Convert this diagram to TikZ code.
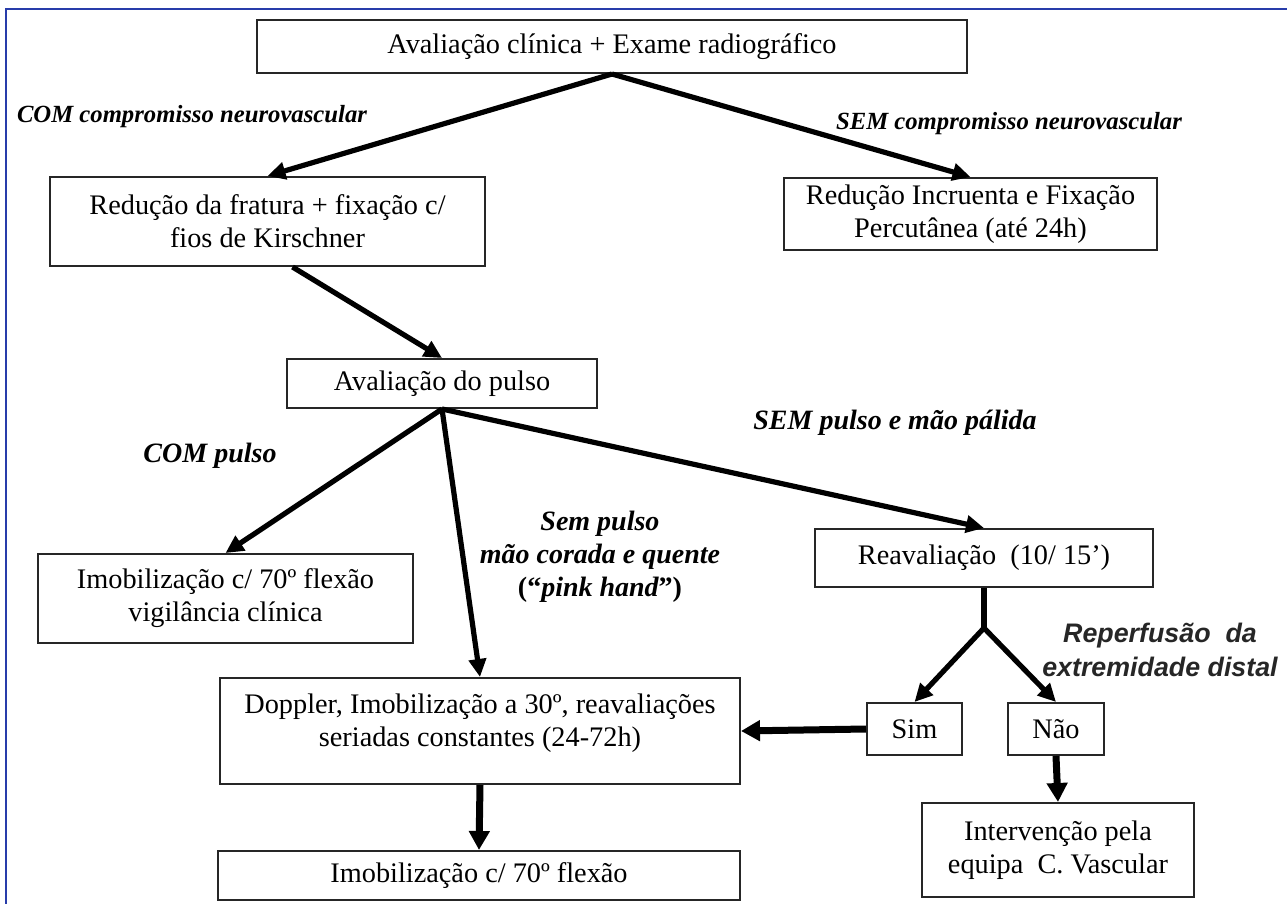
\documentclass[tikz,border=0pt]{standalone}
\usepackage{fontspec}
\setmainfont{Liberation Serif}
\newfontfamily\arialfont{Liberation Sans}
\usepackage{tikz}
\usetikzlibrary{arrows.meta,calc,positioning}
\definecolor{moldura}{RGB}{40,60,170}
\tikzstyle{caixa} = [draw=black!85, line width=1pt, fill=white, align=center, inner sep=0pt,
	font=\fontsize{14.15}{16.5}\selectfont]
\tikzstyle{seta} = [line width=2.6pt, -{Triangle[length=9pt,width=8.5pt]}]
\tikzstyle{setagrossa} = [line width=3.5pt, -{Triangle[length=9.5pt,width=10pt]}]
\tikzstyle{rotulo} = [align=center, inner sep=0pt, font=\fontsize{14}{16.5}\selectfont\bfseries\itshape]

\begin{document}
\begin{tikzpicture}[x=0.5pt, y=-0.5pt]
		\useasboundingbox (0,0) rectangle (1287,904);
		\draw[moldura, line width=1pt] (6,904) -- (6,9) -- (1287,9);

		\node[caixa, minimum width=355pt, minimum height=26.5pt] (aval) at (612,46.5) {Avaliação clínica + Exame radiográfico};
		\node[caixa, minimum width=217.5pt, minimum height=44.5pt] (red) at (267.5,221.5) {Redução da fratura + fixação c/\\fios de Kirschner};
		\node[caixa, minimum width=186.5pt, minimum height=36pt] (inc) at (970.5,214) {Redução Incruenta e Fixação\\Percutânea (até 24h)};
		\node[caixa, minimum width=155pt, minimum height=24.5pt] (pulso) at (442,383.5) {Avaliação do pulso};
		\node[caixa, minimum width=187.5pt, minimum height=44.5pt] (imobA) at (225.5,598.5) {Imobilização c/ 70º flexão\\vigilância clínica};
		\node[caixa, minimum width=169pt, minimum height=29pt] (reav) at (984,558) {Reavaliação~~(10/ 15’)};
		\node[caixa, minimum width=260pt, minimum height=53pt] (doppler) at (480,731) {Doppler, Imobilização a 30º, reavaliações\\seriadas constantes (24-72h)\\[-6pt]\mbox{}};
		\node[caixa, minimum width=47.5pt, minimum height=26pt] (sim) at (914.5,729) {Sim};
		\node[caixa, minimum width=48pt, minimum height=26pt] (nao) at (1056,729) {Não};
		\node[caixa, minimum width=136pt, minimum height=47pt] (interv) at (1058,850) {Intervenção pela\\equipa~~C. Vascular};
		\node[caixa, minimum width=261pt, minimum height=24.5pt] (imobB) at (479,875.5) {Imobilização c/ 70º flexão};

		\node[rotulo, font=\fontsize{12.35}{15}\selectfont\bfseries\itshape] (comComp) at (192,117) {COM compromisso neurovascular};
		\node[rotulo, font=\fontsize{12.35}{15}\selectfont\bfseries\itshape] (semComp) at (1009,124) {SEM compromisso neurovascular};
		\node[rotulo] (comPulso) at (210,456) {COM pulso};
		\node[rotulo] (semPulso) at (895,423) {SEM pulso e mão pálida};
		\node[rotulo] (pink) at (600,557) {Sem pulso\\mão corada e quente\\{\upshape(“}pink hand{\upshape”)}};
		\node[rotulo, text=black!85, font=\arialfont\fontsize{13.4}{17}\selectfont\bfseries\itshape] (reperf) at (1160,650) {Reperfusão~~da\\extremidade distal};

		\draw[seta] (aval.south) -- (red.north);
		\draw[seta] (aval.south) -- (inc.north);
		\draw[seta] ($(red.south)+(25,0)$) -- (pulso.north);
		\draw[seta] (pulso.south) -- (imobA.north);
		\draw[seta] (pulso.south) -- (doppler.north);
		\draw[seta] (pulso.south) -- (reav.north);
		\coordinate (ramo) at ($(reav.south)+(0,40)$);
		\draw[line width=2.6pt] (reav.south) -- (ramo);
		\draw[seta] (ramo) -- (sim.north);
		\draw[seta] (ramo) -- (nao.north);
		\draw[setagrossa] (sim.west) -- (doppler.east);
		\draw[setagrossa] (nao.south) -- (interv.north);
		\draw[setagrossa] (doppler.south) -- (imobB.north);
	\end{tikzpicture}
\end{document}
